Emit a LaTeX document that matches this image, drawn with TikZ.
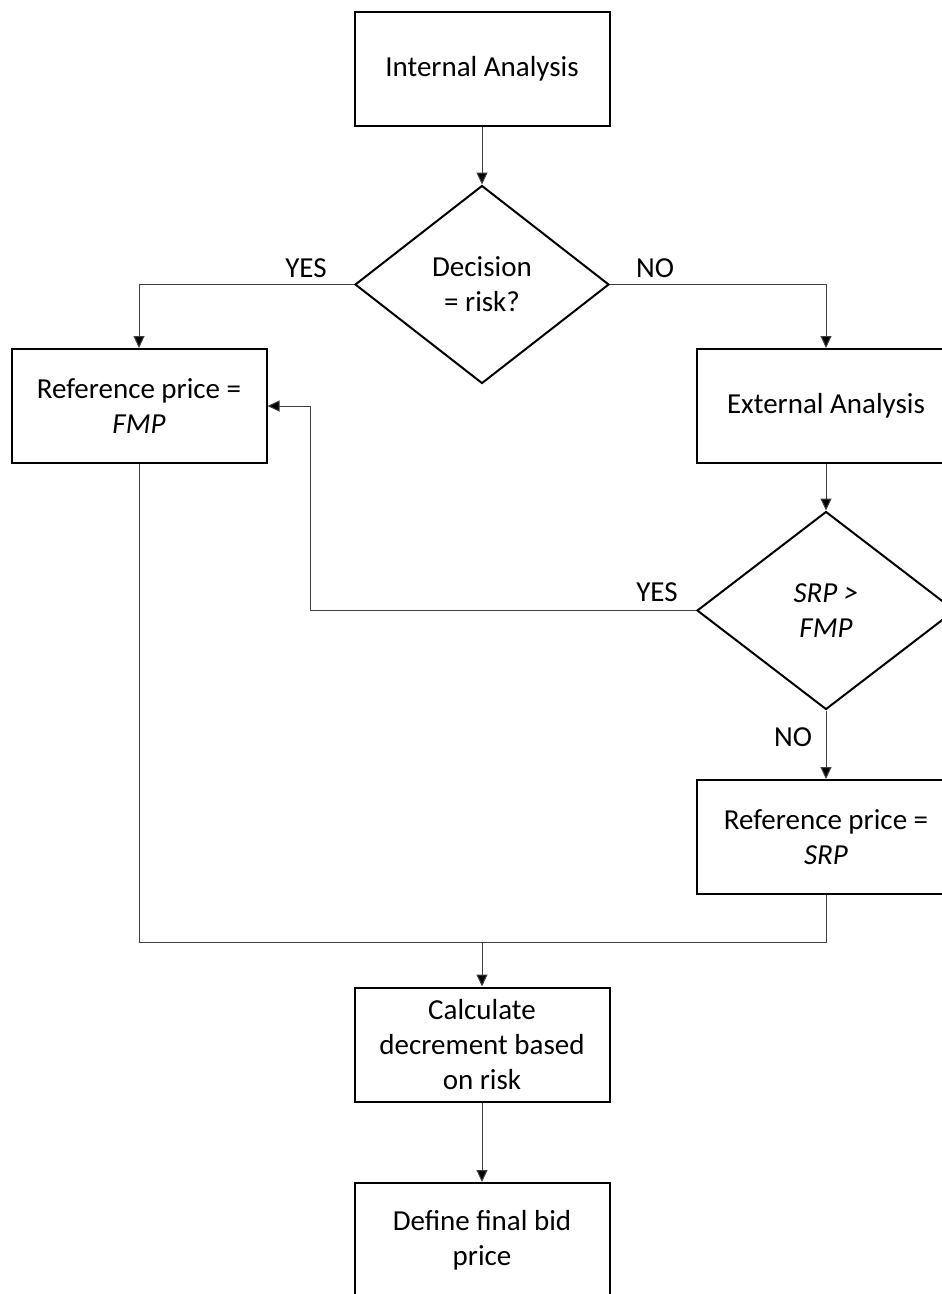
\documentclass[tikz,border=0pt]{standalone}
\usepackage{fontspec}
\setmainfont{Carlito}
\usetikzlibrary{shapes.geometric,arrows.meta}
\begin{document}
\begin{tikzpicture}[x=1pt,y=-1pt,
  every node/.style={font=\fontsize{29}{35}\selectfont},
  box/.style={draw=black,line width=2pt,rectangle,minimum width=255pt,minimum height=114pt,align=center,inner sep=2pt},
  wbox/.style={box,minimum width=258pt},
  dec/.style={draw=black,line width=2pt,diamond,minimum width=254pt,minimum height=198pt,align=center,inner sep=0pt},
  wdec/.style={dec,minimum width=258pt},
  conn/.style={draw=black!75,line width=1pt},
  arr/.style={conn,-{Triangle[length=12pt,width=11pt,fill=black]}},
  lbl/.style={inner sep=0pt}
]
\useasboundingbox (0,0) rectangle (942,1294);
\clip (0,0) rectangle (942,1294);
\fill[white] (0,0) rectangle (942,1294);

\node[box] (ia) at (482,69) {Internal Analysis};
\node[dec] (d1) at (482,284.5) {Decision\\= risk?};
\node[box] (fmp) at (139,406) {Reference price =\\\textit{FMP}};
\node[wbox] (ea) at (826,406) {External Analysis};
\node[wdec] (d2) at (826,610.5) {\textit{SRP >}\\\textit{FMP}};
\node[wbox] (srp) at (826,837) {Reference price =\\\textit{SRP}};
\node[box] (calc) at (482,1044.5) {Calculate\\decrement based\\on risk};
\node[box] (fin) at (482,1240) {Define final bid\\price};

\coordinate (j) at (482,942);

\node[lbl] (yes1) at (306,268) {YES};
\node[lbl] (no1) at (655,268) {NO};
\node[lbl] (yes2) at (657,592) {YES};
\node[lbl] (no2) at (793,737) {NO};

\draw[arr] (ia.south) -- (d1.north);
\draw[arr] (d1.west) -| (fmp.north);
\draw[arr] (d1.east) -| (ea.north);
\draw[arr] (ea.south) -- (d2.north);
\draw[arr] (d2.west) -- ++(-386,0) |- (fmp.east);
\draw[arr] (d2.south) -- (srp.north);
\draw[conn] (fmp.south) |- (j) -| (srp.south);
\draw[arr] (j) -- (calc.north);
\draw[arr] (calc.south) -- (fin.north);
\end{tikzpicture}
\end{document}
